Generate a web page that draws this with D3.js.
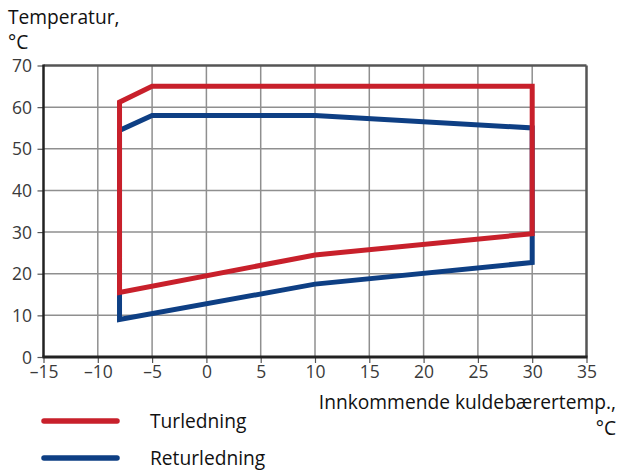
<!DOCTYPE html>
<html><head><meta charset="utf-8">
<script src="https://cdn.jsdelivr.net/npm/d3@7"></script>
<style>
body{margin:0;background:#fff;}
text{font-family:"Open Sans",Roboto,sans-serif;}
</style></head>
<body><svg id="c" width="626" height="470"></svg>
<script>
const xTicks = [-15,-10,-5,0,5,10,15,20,25,30,35];
const yTicks = [0,10,20,30,40,50,60,70];
const turX = [-8,-8,-5,30,30,10,-8];
const turY = [15.5,61.2,65,65,29.6,24.5,15.5];
const retX = [-8,-8,-5,10,30,30,10,-8];
const retY = [9,54.4,58,58,55,22.7,17.5,9];
const seriesNames = ["Turledning","Returledning"];
const colors = ["#C8202B","#0E3F84"];

const svg = d3.select("#c");
const x = d3.scaleLinear().domain([-15,35]).range([43.5,586.5]);
const y = d3.scaleLinear().domain([0,70]).range([357,65.5]);

// grid
svg.append("g").selectAll("line").data(xTicks.slice(1,-1)).join("line")
  .attr("x1",d=>x(d)).attr("x2",d=>x(d)).attr("y1",y(70)).attr("y2",y(0))
  .attr("stroke","#8f8f8f").attr("stroke-width",1.5);
svg.append("g").selectAll("line").data(yTicks.slice(1,-1)).join("line")
  .attr("x1",x(-15)).attr("x2",x(35)).attr("y1",d=>y(d)).attr("y2",d=>y(d))
  .attr("stroke","#8f8f8f").attr("stroke-width",1.5);
// top & right border
svg.append("line").attr("x1",x(-15)).attr("x2",x(35)).attr("y1",y(70)).attr("y2",y(70))
  .attr("stroke","#555").attr("stroke-width",2.5);
svg.append("line").attr("x1",x(35)).attr("x2",x(35)).attr("y1",y(70)).attr("y2",y(0))
  .attr("stroke","#555").attr("stroke-width",2.5);

// axes
const yAxis = svg.append("g").attr("transform",`translate(${x(-15)},0)`)
  .call(d3.axisLeft(y).tickValues(yTicks).tickSize(6).tickPadding(5.5).tickFormat(d3.format("d")));
yAxis.select(".domain").remove();
yAxis.selectAll(".tick line").attr("stroke","#555").attr("stroke-width",1.2);
yAxis.selectAll("text").attr("font-size",17.5).attr("fill","#3a3a3a").attr("dy","0.35em");

const xAxis = svg.append("g").attr("transform",`translate(0,${y(0)})`)
  .call(d3.axisBottom(x).tickValues(xTicks).tickSize(6).tickPadding(3)
    .tickFormat(d=> d<0 ? "\u2013"+Math.abs(d) : String(d)));
xAxis.select(".domain").remove();
xAxis.selectAll(".tick line").attr("stroke","#555").attr("stroke-width",1.2);
xAxis.selectAll("text").attr("font-size",17.5).attr("fill","#3a3a3a");

svg.append("line").attr("x1",x(-15)).attr("x2",x(-15)).attr("y1",y(70)-1).attr("y2",y(0))
  .attr("stroke","#222").attr("stroke-width",2.5);
svg.append("line").attr("x1",x(-15)-1).attr("x2",x(35)+1).attr("y1",y(0)).attr("y2",y(0))
  .attr("stroke","#222").attr("stroke-width",3);

// series
const line = d3.line().x(d=>x(d[0])).y(d=>y(d[1]));
const ret = retX.map((v,i)=>[v,retY[i]]);
const tur = turX.map((v,i)=>[v,turY[i]]);
svg.append("path").attr("d",line(ret)+"Z").attr("fill","none").attr("stroke",colors[1])
  .attr("stroke-width",5).attr("stroke-linejoin","miter");
svg.append("path").attr("d",line(tur)+"Z").attr("fill","none").attr("stroke",colors[0])
  .attr("stroke-width",5).attr("stroke-linejoin","miter");

// titles (multi-line text elements)
const fs = 19.2;
const yt = svg.append("text").attr("font-size",fs).attr("fill","#111");
yt.append("tspan").attr("x",8).attr("y",24).text("Temperatur,");
yt.append("tspan").attr("x",8).attr("dy",25).text("°C");
const xt = svg.append("text").attr("font-size",fs).attr("fill","#111").attr("text-anchor","end");
xt.append("tspan").attr("x",616).attr("y",409).text("Innkommende kuldebærertemp.,");
xt.append("tspan").attr("x",616).attr("dy",26).text("°C");

// legend
const lg = svg.append("g");
[421,458].forEach((yy,i)=>{
  lg.append("line").attr("x1",44).attr("x2",117).attr("y1",yy).attr("y2",yy)
    .attr("stroke",colors[i]).attr("stroke-width",5.5).attr("stroke-linecap","round");
  lg.append("text").attr("x",150).attr("y",yy+7).attr("font-size",fs).attr("fill","#111").text(seriesNames[i]);
});
</script></body></html>
